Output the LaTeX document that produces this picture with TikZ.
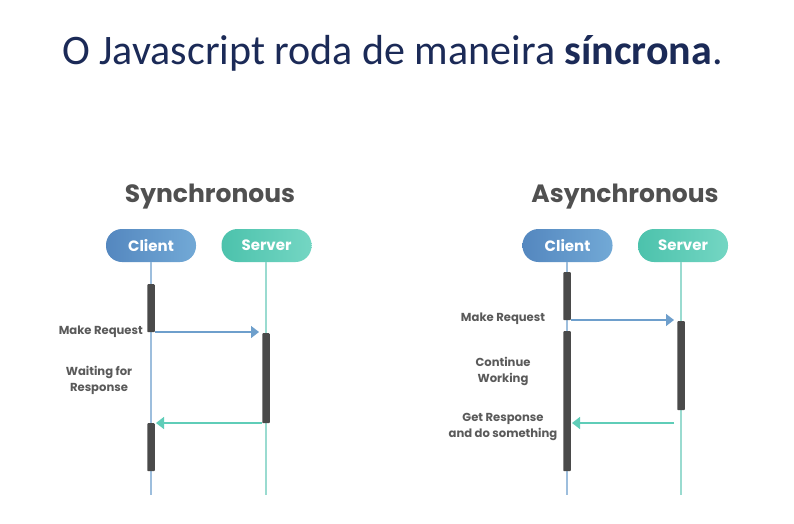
\documentclass[tikz,border=0pt]{standalone}
\usepackage{fontspec}
\setmainfont{Carlito}
\newfontfamily\diagfont{Poppins}
\usetikzlibrary{arrows.meta}
\definecolor{titlenavy}{HTML}{1B2A57}
\definecolor{headgray}{HTML}{505050}
\definecolor{labelgray}{HTML}{5A5A5A}
\definecolor{clientA}{HTML}{5487BF}
\definecolor{clientB}{HTML}{72A9D6}
\definecolor{serverA}{HTML}{4CC2AC}
\definecolor{serverB}{HTML}{74D6C3}
\definecolor{clientline}{HTML}{9DBEDD}
\definecolor{serverline}{HTML}{9ADBD0}
\definecolor{reqarrow}{HTML}{6E9FCC}
\definecolor{resarrow}{HTML}{5FCDB8}
\definecolor{barfill}{HTML}{4A4A4A}
\tikzset{
  pill/.style={rounded corners=16pt, minimum width=90pt, minimum height=33pt,
    inner sep=0pt, text=white, font=\diagfont\bfseries\fontsize{15}{17}\selectfont},
  clientpill/.style={pill, left color=clientA, right color=clientB},
  serverpill/.style={pill, left color=serverA, right color=serverB},
  heading/.style={text=headgray, font=\diagfont\bfseries\fontsize{25}{28}\selectfont},
  steplabel/.style={text=labelgray, align=center, inner sep=0pt,
    font=\diagfont\bfseries\fontsize{11.6}{15.5}\selectfont},
  lifeclient/.style={clientline, line width=1.2pt},
  lifeserver/.style={serverline, line width=1.2pt},
  activity/.style={fill=barfill, draw=none, minimum width=7.5pt, inner sep=0pt, rounded corners=0.8pt},
  request/.style={reqarrow, line width=1.3pt, -{Triangle[length=8pt,width=12pt]}},
  response/.style={resarrow, line width=1.3pt, -{Triangle[length=8pt,width=12pt]}},
}
\begin{document}
\begin{tikzpicture}[x=1pt,y=-1pt]
\useasboundingbox[fill=white] (0,0) rectangle (794,523);

% page title
\node[text=titlenavy, anchor=base west, inner sep=0pt,
  font=\fontsize{42}{46}\selectfont] (title) at (62,64)
  {O Javascript roda de maneira \textbf{síncrona}.};

% ---------------- synchronous ----------------
\node[heading, anchor=base] (synchead) at (210,202) {Synchronous};
\node[clientpill] (sclient) at (151,245.5) {Client};
\node[serverpill] (sserver) at (266.5,245.5) {Server};
\coordinate (scend) at (151,495);
\coordinate (ssend) at (266,495);
\draw[lifeclient] (sclient.south) -- (scend);
\draw[lifeserver] (sserver.south -| ssend) -- (ssend);

\node[activity, minimum height=48pt, anchor=north] (sbar1) at (151,284) {};
\node[activity, minimum height=90pt, anchor=north] (sbar2) at (266,333) {};
\node[activity, minimum height=48pt, anchor=north] (sbar3) at (151,423) {};

\coordinate (sreqA) at (155,332);
\coordinate (sreqB) at (259,332);
\coordinate (sresA) at (262,423);
\coordinate (sresB) at (156,423);
\draw[request] (sreqA) -- (sreqB);
\draw[response] (sresA) -- (sresB);

\node[steplabel, anchor=base east] (smake) at (143,334) {Make Request};
\node[steplabel, anchor=base] (swait) at (99,391) {Waiting for\\Response};

% ---------------- asynchronous ----------------
\node[heading, anchor=base] (asynchead) at (625,202) {Asynchronous};
\node[clientpill] (aclient) at (567.5,245.5) {Client};
\node[serverpill] (aserver) at (683,245.5) {Server};
\coordinate (acend) at (567,495);
\coordinate (asend) at (681,495);
\draw[lifeclient] (aclient.south -| acend) -- (acend);
\draw[lifeserver] (aserver.south -| asend) -- (asend);

\node[activity, minimum height=48pt, anchor=north] (abar1) at (567,272) {};
\node[activity, minimum height=89pt, anchor=north] (abar2) at (681,321) {};
\node[activity, minimum height=140pt, anchor=north] (abar3) at (567,331) {};

\coordinate (areqA) at (571,320);
\coordinate (areqB) at (674,320);
\coordinate (aresA) at (674,423);
\coordinate (aresB) at (572,423);
\draw[request] (areqA) -- (areqB);
\draw[response] (aresA) -- (aresB);

\node[steplabel, anchor=base] (amake) at (503,321) {Make Request};
\node[steplabel, anchor=base] (acont) at (503,382) {Continue\\Working};
\node[steplabel, anchor=base] (aget) at (503,437) {Get Response\\and do something};
\end{tikzpicture}
\end{document}
